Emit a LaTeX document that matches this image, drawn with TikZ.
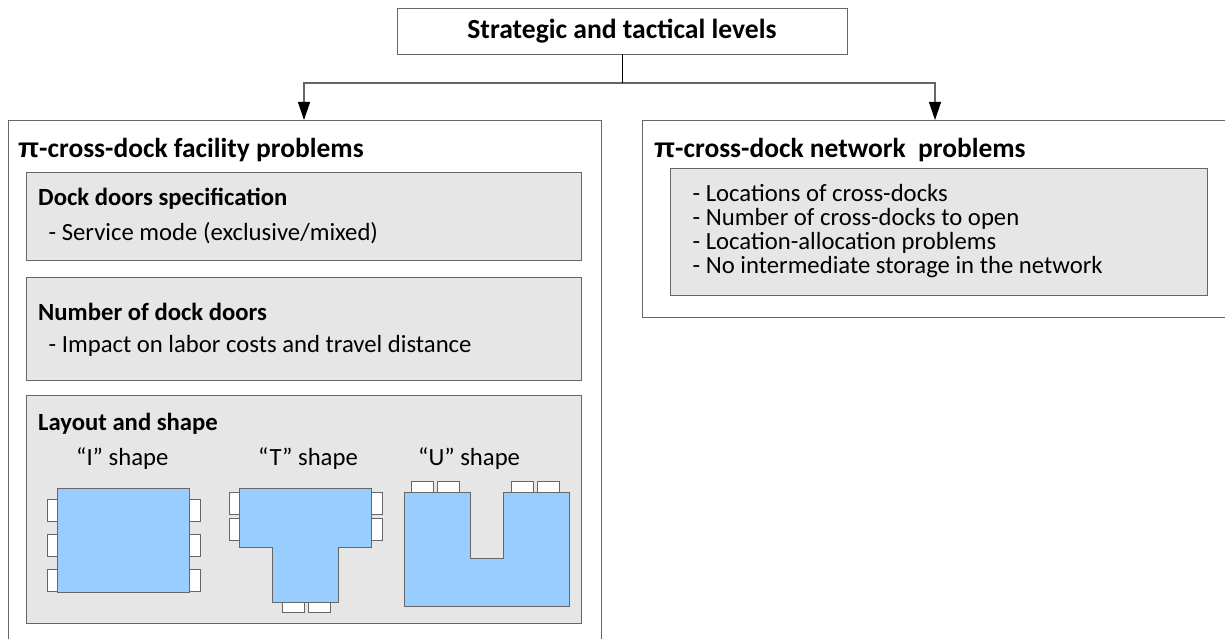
\documentclass[tikz,border=0pt]{standalone}
\usepackage{fontspec}
\setmainfont{Carlito}
\newfontfamily\pifont{Liberation Sans}
\usetikzlibrary{arrows.meta}
\definecolor{gbox}{HTML}{E6E6E6}
\definecolor{bshape}{HTML}{99CCFF}
\definecolor{ln}{HTML}{666666}
\tikzset{x=1pt,y=-1pt,
 outer/.style={draw=ln,fill=white,line width=.9pt},
 inner/.style={draw=ln,fill=gbox,line width=.9pt},
 blue/.style={draw=ln,fill=bshape,line width=.9pt},
 door/.style={draw=ln,fill=white,line width=.9pt},
 lab/.style={anchor=west,inner sep=0pt,font=\fontsize{24.7}{28}\selectfont},
 head/.style={anchor=west,inner sep=0pt,font=\fontsize{27.45}{30}\selectfont\bfseries},
 sub/.style={anchor=west,inner sep=0pt,font=\fontsize{24.7}{28}\selectfont\bfseries},
 conn/.style={draw=ln,line width=1.2pt},
 arr/.style={conn,-{Triangle[length=18pt,width=12pt,fill=black,color=black]}}}
\begin{document}
\begin{tikzpicture}
\useasboundingbox (0,0) rectangle (1225,639);
\node[outer,minimum width=450pt,minimum height=46pt,inner sep=0pt,font=\fontsize{27.6}{30}\selectfont\bfseries] (top) at (622,31) {Strategic and tactical levels};
\coordinate (ffac) at (304,120);
\coordinate (fnet) at (935,120);
\coordinate (fork) at (622,83);
\draw[arr] (fork) -| (ffac);
\draw[arr] (fork) -| (fnet);
\draw[black,line width=.6pt] (top.south) -- (fork);
\draw[outer] (8,120.5) -- (601,120.5) -- (601,639);
\draw[outer] (8,639) -- (8,120.5);
\node[head] (t1) at (18,150) {{\pifont π}-cross-dock facility problems};
\draw[inner] (26,172) rectangle (581,260);
\node[sub] (a1) at (38,199) {Dock doors specification};
\node[lab] (a2) at (48.5,233) {- Service mode (exclusive/mixed)};
\draw[inner] (26,277) rectangle (581,380);
\node[sub] (b1) at (38,312) {Number of dock doors};
\node[lab] (b2) at (48.5,346) {- Impact on labor costs and travel distance};
\draw[inner] (26,395) rectangle (581,623);
\node[sub] (c1) at (38,424) {Layout and shape};
\node[lab] (s1) at (76,459) {“I” shape};
\node[lab] (s2) at (258,459) {“T” shape};
\node[lab] (s3) at (418,459) {“U” shape};
% I
\foreach \y in {499,534,569}{\draw[door] (47,\y) rectangle (57,\y+22);\draw[door] (189,\y) rectangle (200,\y+22);}
\draw[blue] (57,488) rectangle (189,592);
% T
\foreach \y in {492,518}{\draw[door] (229,\y) rectangle (239,\y+22);\draw[door] (371,\y) rectangle (382,\y+22);}
\foreach \x in {282,308}{\draw[door] (\x,602) rectangle (\x+22,612);}
\draw[blue] (239,488) -- (371,488) -- (371,547) -- (338,547) -- (338,602) -- (272,602) -- (272,547) -- (239,547) -- cycle;
% U
\foreach \x in {411,437,511,537}{\draw[door] (\x,481) rectangle (\x+22,492);}
\draw[blue] (404,492) -- (470,492) -- (470,558) -- (503,558) -- (503,492) -- (569,492) -- (569,606) -- (404,606) -- cycle;
% right
\draw[outer] (1225,317.5) -- (642.5,317.5) -- (642.5,120.5) -- (1225,120.5);
\node[head] (t2) at (654,150) {{\pifont π}-cross-dock network\ \ problems};
\draw[inner] (670,168) rectangle (1207,295);
\node[lab,align=left,font=\fontsize{24.7}{24.3}\selectfont] (n) at (692.5,231) {- Locations of cross-docks\\- Number of cross-docks to open\\- Location-allocation problems\\- No intermediate storage in the network};
\end{tikzpicture}
\end{document}
